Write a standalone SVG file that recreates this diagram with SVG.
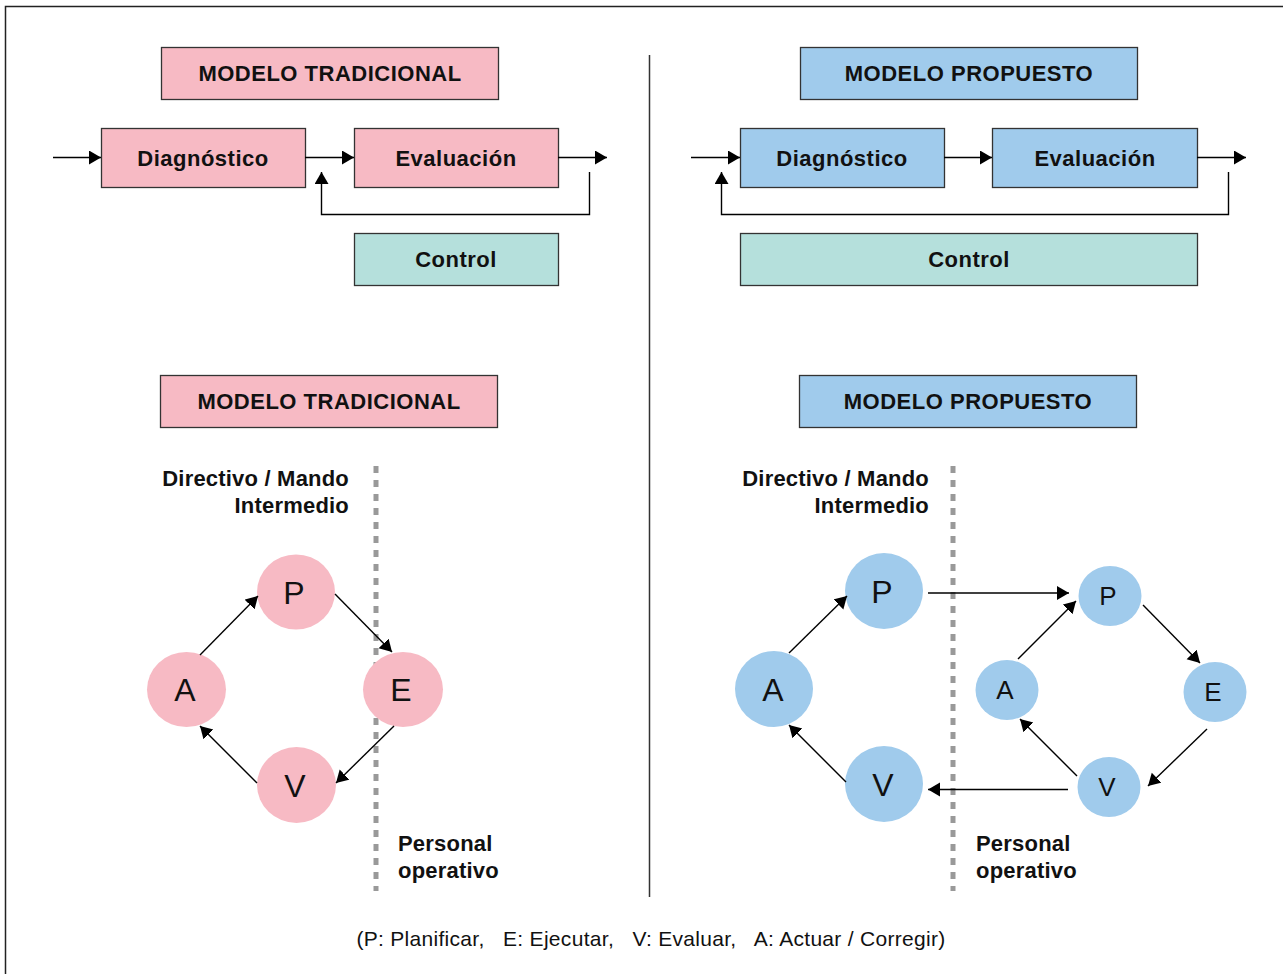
<svg xmlns="http://www.w3.org/2000/svg" width="1283" height="974" viewBox="0 0 1283 974">
<defs>
<marker id="ah" markerUnits="userSpaceOnUse" markerWidth="14" markerHeight="16" refX="12" refY="7" orient="auto">
<path d="M0,0 L12,7 L0,14 Z" fill="#000"/>
</marker>
<style>
.box{stroke:#333;stroke-width:1.3}
.pink{fill:#f7bac4}
.blue{fill:#a0cbec}
.green{fill:#b5e0dc}
.bt{font-family:"Liberation Sans",Arial,sans-serif;font-weight:bold;font-size:22px;letter-spacing:0.5px;fill:#111;text-anchor:middle}
.lbl{font-family:"Liberation Sans",Arial,sans-serif;font-weight:bold;font-size:22px;letter-spacing:0.2px;fill:#111}
.cl{font-family:"Liberation Sans",Arial,sans-serif;font-size:32px;fill:#111;text-anchor:middle}
.cs{font-family:"Liberation Sans",Arial,sans-serif;font-size:26px;fill:#111;text-anchor:middle}
.cp{fill:#f7bac4}
.cb{fill:#a0cbec}
.ln{stroke:#000;stroke-width:1.4;fill:none}
.dash{stroke:#999;stroke-width:5;stroke-dasharray:7 7;fill:none}
</style>
</defs>
<rect x="0" y="0" width="1283" height="974" fill="#fff"/>
<rect x="5.5" y="6.5" width="1295" height="990" fill="none" stroke="#222" stroke-width="1.5"/>
<line x1="649.5" y1="55" x2="649.5" y2="897" stroke="#333" stroke-width="1.5"/>
<line class="dash" x1="376" y1="466" x2="376" y2="891"/>
<line class="dash" x1="953" y1="466" x2="953" y2="891"/>

<g id="t1"><rect class="box pink" x="161.5" y="47.5" width="337" height="52"/><text class="bt" x="330" y="81">MODELO TRADICIONAL</text></g>
<g id="t2"><rect class="box blue" x="800.5" y="47.5" width="337" height="52"/><text class="bt" x="969" y="81">MODELO PROPUESTO</text></g>
<g id="d1"><rect class="box pink" x="101.5" y="128.5" width="204" height="59"/><text class="bt" x="203" y="166">Diagnóstico</text></g>
<g id="e1"><rect class="box pink" x="354.5" y="128.5" width="204" height="59"/><text class="bt" x="456" y="166">Evaluación</text></g>
<g id="c1"><rect class="box green" x="354.5" y="233.5" width="204" height="52"/><text class="bt" x="456" y="267">Control</text></g>
<g id="d2"><rect class="box blue" x="740.5" y="128.5" width="204" height="59"/><text class="bt" x="842" y="166">Diagnóstico</text></g>
<g id="e2"><rect class="box blue" x="992.5" y="128.5" width="205" height="59"/><text class="bt" x="1095" y="166">Evaluación</text></g>
<g id="c2"><rect class="box green" x="740.5" y="233.5" width="457" height="52"/><text class="bt" x="969" y="267">Control</text></g>

<g id="t3"><rect class="box pink" x="160.5" y="375.5" width="337" height="52"/><text class="bt" x="329" y="409">MODELO TRADICIONAL</text></g>
<g id="t4"><rect class="box blue" x="799.5" y="375.5" width="337" height="52"/><text class="bt" x="968" y="409">MODELO PROPUESTO</text></g>

<g id="labels">
<text class="lbl" x="349" y="486" text-anchor="end">Directivo / Mando</text>
<text class="lbl" x="349" y="513" text-anchor="end">Intermedio</text>
<text class="lbl" x="398" y="851">Personal</text>
<text class="lbl" x="398" y="878">operativo</text>
<text class="lbl" x="929" y="486" text-anchor="end">Directivo / Mando</text>
<text class="lbl" x="929" y="513" text-anchor="end">Intermedio</text>
<text class="lbl" x="976" y="851">Personal</text>
<text class="lbl" x="976" y="878">operativo</text>
</g>

<g id="lP"><ellipse class="cp" cx="296" cy="592" rx="39" ry="37.5"/><text class="cl" x="294" y="604">P</text></g>
<g id="lA"><ellipse class="cp" cx="186.5" cy="689.5" rx="39.5" ry="37.5"/><text class="cl" x="185" y="701">A</text></g>
<g id="lE"><ellipse class="cp" cx="403" cy="689.5" rx="40" ry="37.5"/><text class="cl" x="401" y="701">E</text></g>
<g id="lV"><ellipse class="cp" cx="296.5" cy="785" rx="39.5" ry="38"/><text class="cl" x="295" y="797">V</text></g>

<g id="rP"><ellipse class="cb" cx="884" cy="591" rx="39" ry="38"/><text class="cl" x="882" y="603">P</text></g>
<g id="rA"><ellipse class="cb" cx="774" cy="689" rx="39" ry="38"/><text class="cl" x="773" y="701">A</text></g>
<g id="rV"><ellipse class="cb" cx="884" cy="784" rx="39" ry="38"/><text class="cl" x="883" y="796">V</text></g>
<g id="sP"><ellipse class="cb" cx="1110" cy="596" rx="31.5" ry="30"/><text class="cs" x="1108" y="605">P</text></g>
<g id="sA"><ellipse class="cb" cx="1007" cy="690" rx="31.5" ry="30"/><text class="cs" x="1005" y="699">A</text></g>
<g id="sE"><ellipse class="cb" cx="1215" cy="692" rx="31.5" ry="30"/><text class="cs" x="1213" y="701">E</text></g>
<g id="sV"><ellipse class="cb" cx="1109" cy="787" rx="31.5" ry="30"/><text class="cs" x="1107" y="796">V</text></g>

<g id="connectors">
<line class="ln" x1="53" y1="157.5" x2="101" y2="157.5" marker-end="url(#ah)"/>
<line class="ln" x1="305" y1="157.5" x2="354" y2="157.5" marker-end="url(#ah)"/>
<line class="ln" x1="558" y1="157.5" x2="607" y2="157.5" marker-end="url(#ah)"/>
<polyline class="ln" points="589.5,172 589.5,214.5 321.5,214.5 321.5,172" marker-end="url(#ah)"/>
<line class="ln" x1="691" y1="157.5" x2="740" y2="157.5" marker-end="url(#ah)"/>
<line class="ln" x1="944" y1="157.5" x2="992" y2="157.5" marker-end="url(#ah)"/>
<line class="ln" x1="1197" y1="157.5" x2="1246" y2="157.5" marker-end="url(#ah)"/>
<polyline class="ln" points="1228.5,172 1228.5,214.5 721.5,214.5 721.5,172" marker-end="url(#ah)"/>

<line class="ln" x1="200" y1="655" x2="258" y2="596" marker-end="url(#ah)"/>
<line class="ln" x1="335" y1="594" x2="392" y2="652" marker-end="url(#ah)"/>
<line class="ln" x1="394" y1="726" x2="336" y2="783" marker-end="url(#ah)"/>
<line class="ln" x1="257" y1="783" x2="200" y2="726" marker-end="url(#ah)"/>

<line class="ln" x1="789" y1="653" x2="847" y2="596" marker-end="url(#ah)"/>
<line class="ln" x1="846" y1="782" x2="789" y2="725" marker-end="url(#ah)"/>
<line class="ln" x1="928" y1="593" x2="1069" y2="593" marker-end="url(#ah)"/>
<line class="ln" x1="1018" y1="659" x2="1076" y2="601" marker-end="url(#ah)"/>
<line class="ln" x1="1143" y1="605" x2="1200" y2="663" marker-end="url(#ah)"/>
<line class="ln" x1="1207" y1="729" x2="1148" y2="786" marker-end="url(#ah)"/>
<line class="ln" x1="1077" y1="776" x2="1020" y2="719" marker-end="url(#ah)"/>
<line class="ln" x1="1068" y1="789.5" x2="928" y2="789.5" marker-end="url(#ah)"/>
</g>

<text x="651" y="946" font-family="Liberation Sans, Arial, sans-serif" font-size="21" letter-spacing="0.3" fill="#111" text-anchor="middle" xml:space="preserve">(P: Planificar,   E: Ejecutar,   V: Evaluar,   A: Actuar / Corregir)</text>
</svg>
